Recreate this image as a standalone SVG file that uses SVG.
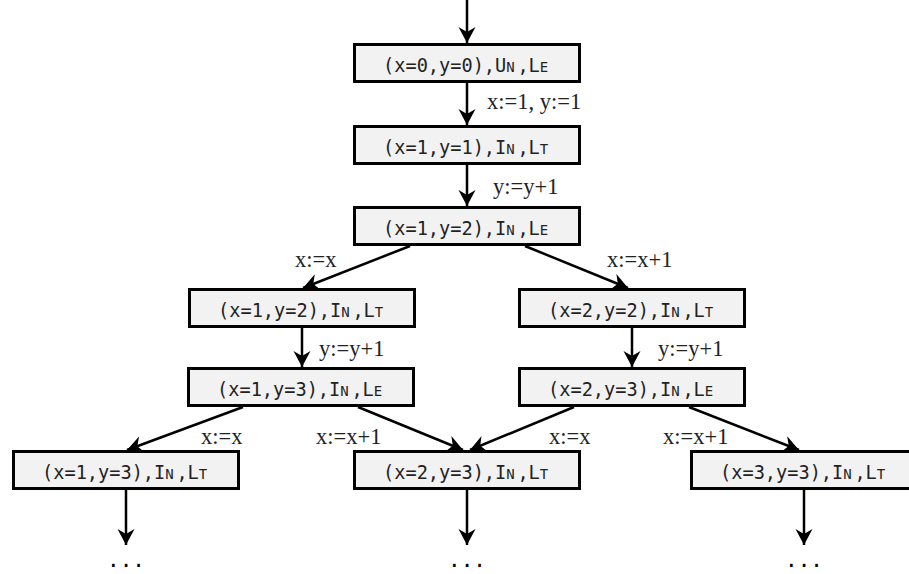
<svg xmlns="http://www.w3.org/2000/svg" width="909" height="574" viewBox="0 0 909 574">
<defs>
<marker id="ah" markerUnits="userSpaceOnUse" markerWidth="20" markerHeight="20" viewBox="-18 -10 20 20" refX="0" refY="0" orient="auto">
<path d="M0,0 L-16,-8.5 L-11,0 L-16,8.5 Z" fill="#000"/>
</marker>
<style>
.box{fill:#f2f2f2;stroke:#000;stroke-width:3}
.nt{font-family:"DejaVu Sans Mono",monospace;font-size:18.6px;fill:#222;text-anchor:middle}
.sc{font-size:14px;letter-spacing:2.7px}
.lb{font-family:"Liberation Serif","Times New Roman",serif;font-size:22.5px;fill:#222}
.ed{stroke:#000;stroke-width:2.5;fill:none;marker-end:url(#ah)}
.dots{font-family:"DejaVu Sans Mono",monospace;font-size:21px;fill:#000;text-anchor:middle}
</style>
</defs>
<rect width="909" height="574" fill="#fff"/>
<g id="connectors">
<line class="ed" x1="467" y1="0" x2="467" y2="43"/>
<line class="ed" x1="467" y1="83" x2="467" y2="125"/>
<line class="ed" x1="467" y1="165" x2="467" y2="206"/>
<line class="ed" x1="410" y1="246" x2="303" y2="288"/>
<line class="ed" x1="525" y1="246" x2="628" y2="288"/>
<line class="ed" x1="302" y1="328" x2="302" y2="367"/>
<line class="ed" x1="632" y1="328" x2="632" y2="367"/>
<line class="ed" x1="243" y1="407" x2="127" y2="450"/>
<line class="ed" x1="358" y1="407" x2="463" y2="450"/>
<line class="ed" x1="574" y1="407" x2="470" y2="450"/>
<line class="ed" x1="689" y1="407" x2="799" y2="450"/>
<line class="ed" x1="126" y1="490" x2="126" y2="545"/>
<line class="ed" x1="467" y1="490" x2="467" y2="545"/>
<line class="ed" x1="804" y1="490" x2="804" y2="545"/>
</g>
<g id="labels">
<text class="lb" x="487" y="109">x:=1, y:=1</text>
<text class="lb" x="493" y="194">y:=y+1</text>
<text class="lb" x="295" y="267">x:=x</text>
<text class="lb" x="607" y="267">x:=x+1</text>
<text class="lb" x="319" y="356">y:=y+1</text>
<text class="lb" x="658" y="356">y:=y+1</text>
<text class="lb" x="201" y="444">x:=x</text>
<text class="lb" x="316" y="444">x:=x+1</text>
<text class="lb" x="549" y="444">x:=x</text>
<text class="lb" x="663" y="444">x:=x+1</text>
</g>
<g id="n1"><rect class="box" x="354.5" y="44.5" width="225" height="37"/><text class="nt" x="467" y="72">(x=0,y=0),U<tspan class="sc">N</tspan>,L<tspan class="sc">E</tspan></text></g>
<g id="n2"><rect class="box" x="354.5" y="126.5" width="225" height="37"/><text class="nt" x="467" y="154">(x=1,y=1),I<tspan class="sc">N</tspan>,L<tspan class="sc">T</tspan></text></g>
<g id="n3"><rect class="box" x="354.5" y="207.5" width="225" height="37"/><text class="nt" x="467" y="235">(x=1,y=2),I<tspan class="sc">N</tspan>,L<tspan class="sc">E</tspan></text></g>
<g id="n4"><rect class="box" x="189.5" y="289.5" width="225" height="37"/><text class="nt" x="302" y="317">(x=1,y=2),I<tspan class="sc">N</tspan>,L<tspan class="sc">T</tspan></text></g>
<g id="n5"><rect class="box" x="188.5" y="368.5" width="225" height="37"/><text class="nt" x="301" y="396">(x=1,y=3),I<tspan class="sc">N</tspan>,L<tspan class="sc">E</tspan></text></g>
<g id="n6"><rect class="box" x="519.5" y="289.5" width="225" height="37"/><text class="nt" x="632" y="317">(x=2,y=2),I<tspan class="sc">N</tspan>,L<tspan class="sc">T</tspan></text></g>
<g id="n7"><rect class="box" x="519.5" y="368.5" width="225" height="37"/><text class="nt" x="632" y="396">(x=2,y=3),I<tspan class="sc">N</tspan>,L<tspan class="sc">E</tspan></text></g>
<g id="n8"><rect class="box" x="13.5" y="451.5" width="225" height="37"/><text class="nt" x="126" y="479">(x=1,y=3),I<tspan class="sc">N</tspan>,L<tspan class="sc">T</tspan></text></g>
<g id="n9"><rect class="box" x="354.5" y="451.5" width="225" height="37"/><text class="nt" x="467" y="479">(x=2,y=3),I<tspan class="sc">N</tspan>,L<tspan class="sc">T</tspan></text></g>
<g id="n10"><rect class="box" x="691.5" y="451.5" width="225" height="37"/><text class="nt" x="804" y="479">(x=3,y=3),I<tspan class="sc">N</tspan>,L<tspan class="sc">T</tspan></text></g>
<g id="dots">
<text class="dots" x="126" y="567">...</text>
<text class="dots" x="467" y="567">...</text>
<text class="dots" x="804" y="567">...</text>
</g>
</svg>
